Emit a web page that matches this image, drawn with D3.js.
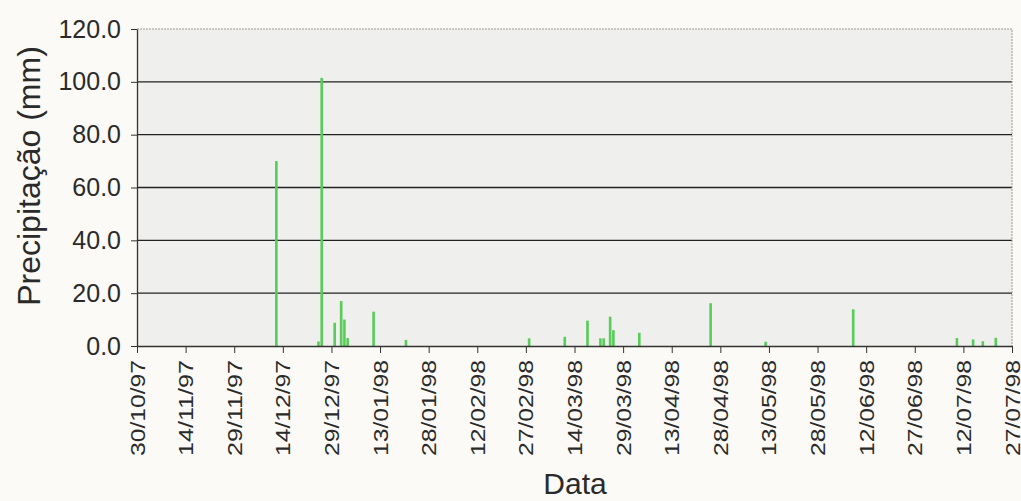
<!DOCTYPE html>
<html>
<head>
  <meta http-equiv="Content-Type" content="text/html;charset=utf-8" />
  <style type="text/css">
    body { margin: 0; background: #fbfaf6; }
    text { font-family: "Liberation Sans", Arial, sans-serif; fill: #2a2a2a; }
  </style>
</head>
<body>
  <div id="svgContainer"></div>
  <script src="https://d3js.org/d3.v7.min.js"></script>
  <script type="text/javascript">
    // daily rainfall
    var rainDates = ["12/12/97", "25/12/97", "26/12/97", "30/12/97", "01/01/98", "02/01/98", "03/01/98",
      "11/01/98", "21/01/98", "28/02/98", "11/03/98", "18/03/98", "22/03/98", "23/03/98", "25/03/98",
      "26/03/98", "03/04/98", "25/04/98", "12/05/98", "08/06/98", "10/07/98", "15/07/98", "18/07/98", "22/07/98"];
    var rainValues = [70.0, 1.7, 101.5, 8.8, 17.0, 10.0, 3.0,
      13.0, 2.3, 2.9, 3.5, 9.6, 2.9, 2.9, 11.1,
      6.0, 5.0, 16.2, 1.6, 13.9, 3.0, 2.5, 1.8, 3.1];
    var xTickLabels = ["30/10/97", "14/11/97", "29/11/97", "14/12/97", "29/12/97", "13/01/98", "28/01/98",
      "12/02/98", "27/02/98", "14/03/98", "29/03/98", "13/04/98", "28/04/98", "13/05/98", "28/05/98",
      "12/06/98", "27/06/98", "12/07/98", "27/07/98"];
    var yTicks = [0, 20, 40, 60, 80, 100, 120];

    var w = 1021;
    var h = 501;
    var pLeft = 137, pRight = 1012, pTop = 29, pBottom = 346;

    var parse = d3.timeParse("%d/%m/%y");
    var data = rainDates.map(function (d, i) { return { date: parse(d), value: rainValues[i] }; });
    var tickDates = xTickLabels.map(parse);

    var svg = d3.select("#svgContainer")
      .append("svg")
      .attr("width", w)
      .attr("height", h);

    var x = d3.scaleTime().domain([tickDates[0], tickDates[tickDates.length - 1]]).range([pLeft, pRight]);
    var y = d3.scaleLinear().domain([0, 120]).range([pBottom, pTop]);

    // plot area
    svg.append("rect")
      .attr("x", pLeft).attr("y", pTop)
      .attr("width", pRight - pLeft).attr("height", pBottom - pTop)
      .attr("fill", "#efefed");

    // gridlines
    svg.append("g")
      .selectAll("line")
      .data(yTicks.filter(function (d) { return d > 0 && d < 120; }))
      .enter().append("line")
      .attr("x1", pLeft).attr("x2", pRight)
      .attr("y1", function (d) { return y(d); })
      .attr("y2", function (d) { return y(d); })
      .attr("stroke", "#222")
      .attr("stroke-width", 1.3);

    // top and right border, light dotted
    svg.append("path")
      .attr("d", "M" + pLeft + "," + y(120) + "H" + pRight + "V" + pBottom)
      .attr("fill", "none")
      .attr("stroke", "#9a9a9a")
      .attr("stroke-dasharray", "2 1");

    // bars
    svg.append("g")
      .selectAll("rect")
      .data(data)
      .enter().append("rect")
      .attr("x", function (d) { return x(d.date) - 1.3; })
      .attr("width", 2.6)
      .attr("y", function (d) { return y(d.value); })
      .attr("height", function (d) { return y(0) - y(d.value); })
      .attr("fill", "#58cc58");

    // y axis
    var yAxis = svg.append("g")
      .attr("transform", "translate(" + pLeft + ",0)")
      .call(d3.axisLeft(y).tickValues(yTicks).tickFormat(d3.format(".1f")).tickSize(6).tickSizeOuter(0));
    yAxis.select(".domain").attr("stroke", "#333").attr("stroke-width", 1.3);
    yAxis.selectAll(".tick line").attr("stroke", "#333");
    yAxis.selectAll(".tick text")
      .attr("x", -16)
      .style("font-size", "25px")
      .style("font-family", "'Liberation Sans', Arial, sans-serif")
      .attr("fill", "#2a2a2a");

    // x axis
    var xAxis = svg.append("g")
      .attr("transform", "translate(0," + pBottom + ")")
      .call(d3.axisBottom(x).tickValues(tickDates).tickFormat(function (d, i) { return xTickLabels[i]; }).tickSize(7).tickSizeOuter(0));
    xAxis.select(".domain").attr("stroke", "#333").attr("stroke-width", 1.3);
    xAxis.selectAll(".tick line").attr("stroke", "#333");
    xAxis.selectAll(".tick text")
      .attr("transform", "rotate(-90)")
      .attr("text-anchor", "end")
      .attr("x", -14)
      .attr("y", 0)
      .attr("dy", "0.35em")
      .attr("textLength", 96)
      .attr("lengthAdjust", "spacingAndGlyphs")
      .style("font-size", "20px")
      .style("font-family", "'Liberation Sans', Arial, sans-serif")
      .attr("fill", "#2a2a2a");

    // axis titles
    svg.append("text")
      .attr("transform", "translate(40,176) rotate(-90)")
      .attr("text-anchor", "middle")
      .style("font-size", "32px")
      .text("Precipitação (mm)");

    svg.append("text")
      .attr("x", 575)
      .attr("y", 494)
      .attr("text-anchor", "middle")
      .style("font-size", "30px")
      .text("Data");
  </script>
</body>
</html>
